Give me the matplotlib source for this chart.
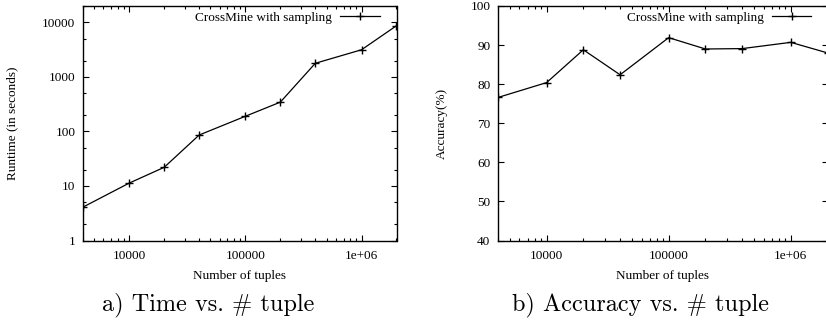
import matplotlib
matplotlib.use("Agg")
import matplotlib.pyplot as plt
from matplotlib.ticker import LogLocator, NullFormatter, NullLocator

# data
tuples = [4000, 10000, 20000, 40000, 100000, 200000, 400000, 1000000, 2000000]
runtime = [4.1, 11.3, 22, 86, 190, 345, 1780, 3150, 8700]
accuracy = [76.6, 80.4, 88.8, 82.4, 91.9, 89.0, 89.1, 90.7, 88.0]

series_name = "CrossMine with sampling"
xticks = [1e4, 1e5, 1e6]
xtick_labels = ["10000", "100000", "1e+06"]
rt_ticks = [1, 10, 100, 1000, 10000]
rt_labels = ["1", "10", "100", "1000", "10000"]
acc_ticks = [40, 50, 60, 70, 80, 90, 100]
acc_labels = [str(v) for v in acc_ticks]

serif = "Liberation Serif"
fs = 9.5
W, H = 826, 321

fig = plt.figure(figsize=(W / 100, H / 100), dpi=100)


def px_axes(x0, y0, x1, y1):
    return fig.add_axes([x0 / W, 1 - y1 / H, (x1 - x0) / W, (y1 - y0) / H])


def style(ax):
    for s in ax.spines.values():
        s.set_linewidth(1.0)
    ax.tick_params(which="both", direction="in", top=True, right=True,
                   labelsize=fs, pad=5.5)
    ax.tick_params(which="major", length=4.5, width=0.8)
    ax.tick_params(which="minor", length=2.5, width=0.8)
    ax.tick_params(axis="x", pad=6.5)
    for lab in ax.get_xticklabels() + ax.get_yticklabels():
        lab.set_fontfamily(serif)


# a) runtime
ax1 = px_axes(83, 6, 396.5, 240.5)
ax1.plot(tuples, runtime, color="black", lw=0.9, marker="+", ms=6.3, mew=1.0,
         label=series_name)
ax1.set_xscale("log")
ax1.set_yscale("log")
ax1.set_xlim(4000, 2e6)
ax1.set_ylim(1, 20000)
ax1.set_xticks(xticks, xtick_labels)
ax1.set_yticks(rt_ticks, rt_labels)
ax1.xaxis.set_minor_locator(LogLocator(base=10, subs=range(2, 10), numticks=20))
ax1.yaxis.set_minor_locator(LogLocator(base=10, subs=(2, 5), numticks=20))
ax1.xaxis.set_minor_formatter(NullFormatter())
ax1.yaxis.set_minor_formatter(NullFormatter())
style(ax1)
ax1.set_xlabel("Number of tuples", fontsize=fs, fontfamily=serif)
ax1.set_ylabel("Runtime (in seconds)", fontsize=fs, fontfamily=serif)
ax1.xaxis.set_label_coords(0.5, -0.125)
ax1.yaxis.set_label_coords(-0.205, 0.5)
ax1.legend(loc="upper right", bbox_to_anchor=(0.946, 0.975), frameon=False,
           markerfirst=False, handlelength=3.0, handletextpad=0.62,
           borderpad=0, borderaxespad=0,
           prop={"family": serif, "size": fs})

# b) accuracy
ax2 = px_axes(498, 6, 827.5, 240.5)
ax2.plot(tuples, accuracy, color="black", lw=0.9, marker="+", ms=6.3, mew=1.0,
         label=series_name)
ax2.set_xscale("log")
ax2.set_xlim(4000, 2e6)
ax2.set_ylim(40, 100)
ax2.set_xticks(xticks, xtick_labels)
ax2.set_yticks(acc_ticks, acc_labels)
ax2.xaxis.set_minor_locator(LogLocator(base=10, subs=range(2, 10), numticks=20))
ax2.xaxis.set_minor_formatter(NullFormatter())
ax2.yaxis.set_minor_locator(NullLocator())
style(ax2)
ax2.set_xlabel("Number of tuples", fontsize=fs, fontfamily=serif)
ax2.set_ylabel("Accuracy(%)", fontsize=fs, fontfamily=serif)
ax2.xaxis.set_label_coords(0.5, -0.125)
ax2.yaxis.set_label_coords(-0.152, 0.5)
ax2.legend(loc="upper right", bbox_to_anchor=(0.951, 0.975), frameon=False,
           markerfirst=False, handlelength=3.0, handletextpad=0.62,
           borderpad=0, borderaxespad=0,
           prop={"family": serif, "size": fs})

# captions
fig.text(208 / W, 1 - 310 / H, "a) Time vs. # tuple", ha="center",
         va="baseline", fontsize=17.5, fontfamily="cmr10")
fig.text(640 / W, 1 - 310 / H, "b) Accuracy vs. # tuple", ha="center",
         va="baseline", fontsize=17.5, fontfamily="cmr10")

fig.savefig("out.png", dpi=100)
